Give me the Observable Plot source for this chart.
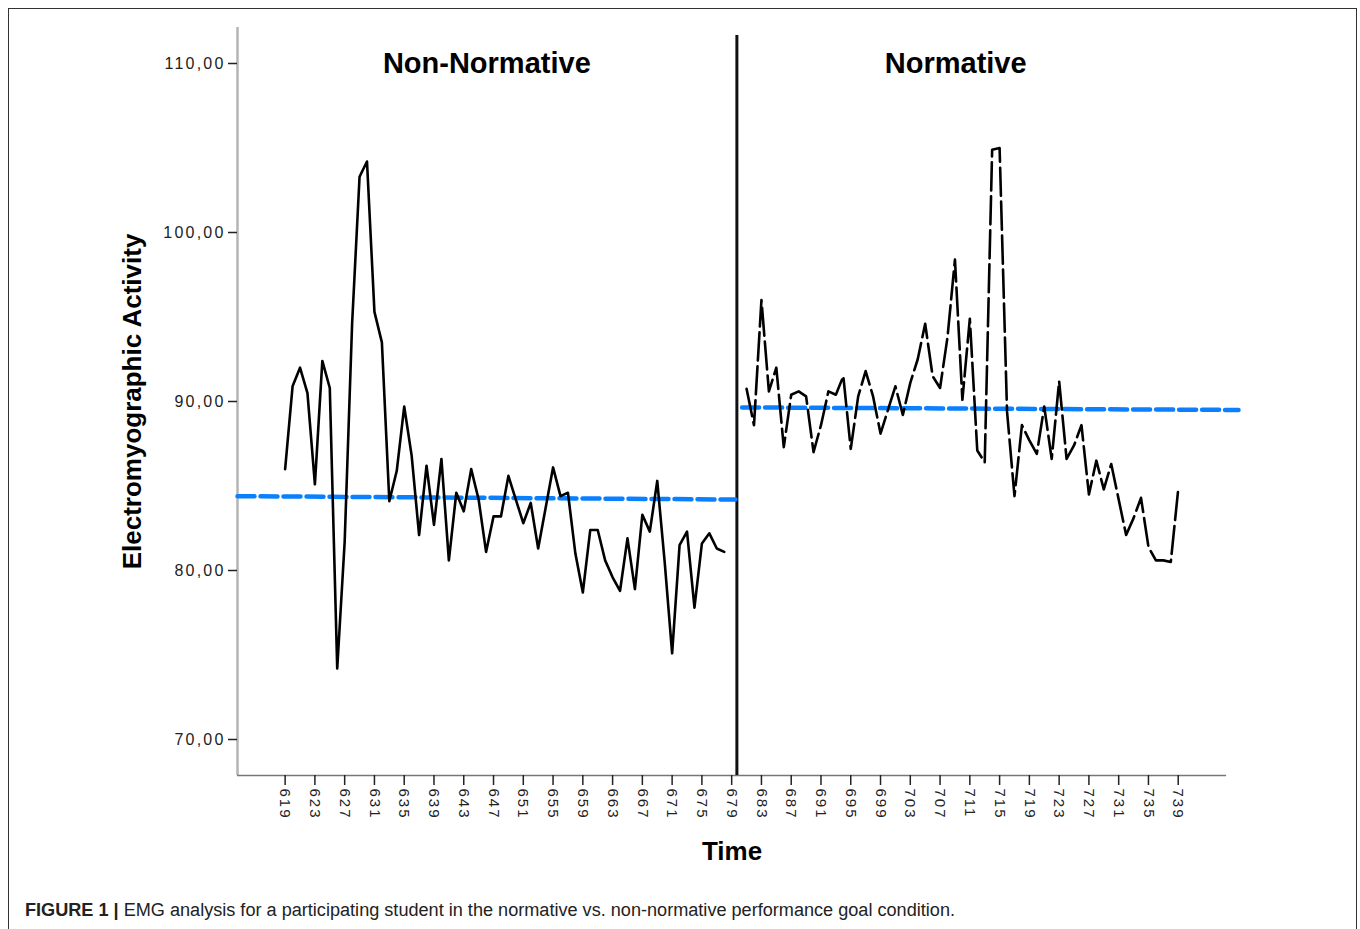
<!DOCTYPE html>
<html><head><meta charset="utf-8">
<script src="https://cdn.jsdelivr.net/npm/d3@7"></script>
<script src="https://cdn.jsdelivr.net/npm/@observablehq/plot@0.6"></script>
<style>
body{margin:0;background:#fff;width:1360px;height:929px;overflow:hidden;position:relative;font-family:"Liberation Sans",Arial,sans-serif}
#frame{position:absolute;left:8px;top:8px;width:1349px;height:960px;border:1.5px solid #333;box-sizing:border-box}
#chart{position:absolute;left:0;top:0}
#caption{position:absolute;left:25px;top:899px;font-size:18px;line-height:22px;color:#222;white-space:nowrap;transform-origin:left center}
</style></head><body>
<div id="frame"></div>
<div id="chart"></div>
<div id="caption"><b>FIGURE 1 |</b> EMG analysis for a participating student in the normative vs. non-normative performance goal condition.</div>
<script>
// Non-normative phase (solid line)
const nonNormTime = d3.range(619, 679);
const nonNormValue = [86.0,90.9,92.0,90.5,85.1,92.4,90.8,74.2,81.7,94.6,
  103.3,104.2,95.3,93.5,84.1,85.9,89.7,86.8,82.1,86.2,
  82.7,86.6,80.6,84.6,83.5,86.0,84.2,81.1,83.2,83.2,
  85.6,84.2,82.8,84.0,81.3,83.7,86.1,84.4,84.6,81.0,
  78.7,82.4,82.4,80.6,79.6,78.8,81.9,78.9,83.3,82.3,
  85.3,80.5,75.1,81.5,82.3,77.8,81.6,82.2,81.3,81.1];
// Normative phase (dashed line)
const normTime = d3.range(681, 740);
const normValue = [90.75,88.6,96.0,90.6,92.0,87.3,90.4,90.6,90.3,87.0,
  88.6,90.6,90.4,91.5,87.2,90.3,91.8,90.3,88.1,89.5,
  90.9,89.2,91.1,92.5,94.6,91.5,90.8,93.8,98.4,90.1,
  94.9,87.1,86.4,104.9,105.0,89.4,84.4,88.6,87.7,86.9,
  89.7,86.6,91.2,86.6,87.4,88.6,84.5,86.5,84.8,86.3,
  84.2,82.1,83.1,84.3,81.4,80.6,80.6,80.5,84.8];
// Fit lines (blue dashed), one per phase: start/end
const fitPhase = ["Non-Normative","Non-Normative","Normative","Normative"];
const fitTime  = [612.6, 679.5, 680.4, 747.1];
const fitValue = [84.4, 84.2, 89.65, 89.5];
// Phase titles and phase divider
const phaseNames = ["Non-Normative","Normative"];
const phaseTitleTime = [646.1, 709.1];
const phaseChangeTime = [679.7];
// Axes
const yTicks = [70,80,90,100,110];
const xTicks = d3.range(619, 740, 4);
const xDomain = [612.6, 747.1];
const xAxisEnd = 745.5;
const yDomain = [67.87, 112.13];
const dividerTop = 111.65;

const nonNorm = nonNormTime.map((t,i)=>({t, v: nonNormValue[i]}));
const norm = normTime.map((t,i)=>({t, v: normValue[i]}));
const fit = fitTime.map((t,i)=>({t, v: fitValue[i], phase: fitPhase[i]}));
const titles = phaseNames.map((n,i)=>({n, t: phaseTitleTime[i]}));

const fmt = d => d.toFixed(2).replace(".", ",");

const plot = Plot.plot({
  width: 1360, height: 880,
  marginLeft: 237, marginRight: 122, marginTop: 27, marginBottom: 105,
  x: {domain: xDomain},
  y: {domain: yDomain},
  style: {fontFamily: "'Liberation Sans', Arial, sans-serif", background: "transparent", overflow: "visible", color: "#222"},
  marks: [
    Plot.ruleX([xDomain[0]], {y1: yDomain[0], y2: yDomain[1], stroke: "#b4b4b4", strokeWidth: 2.5}),
    Plot.ruleY([yDomain[0]], {x1: xDomain[0], x2: xAxisEnd, stroke: "#777", strokeWidth: 1.5}),
    Plot.axisY({ticks: yTicks, tickFormat: fmt, tickSize: 9, tickPadding: 3, fontSize: 16, stroke: "#222", strokeWidth: 1.5, label: null}),
    Plot.axisX({ticks: xTicks, tickFormat: d => String(d), tickSize: 10, tickPadding: 3, tickRotate: 90, fontSize: 15, stroke: "#222", strokeWidth: 1.5, label: null}),
    Plot.ruleX(phaseChangeTime, {y1: dividerTop, y2: yDomain[0], stroke: "#111", strokeWidth: 3}),
    Plot.line(fit, {x: "t", y: "v", z: "phase", stroke: "#0a80ff", strokeWidth: 4.5, strokeDasharray: "17,6"}),
    Plot.line(nonNorm, {x: "t", y: "v", stroke: "#000", strokeWidth: 2.6}),
    Plot.line(norm, {x: "t", y: "v", stroke: "#000", strokeWidth: 2.6, strokeDasharray: "28,6"}),
    Plot.text(titles, {x: "t", y: yTicks[4], text: "n", fontSize: 29, fontWeight: "bold", fill: "#000"}),
    Plot.text(["Electromyographic Activity"], {frameAnchor: "left", dx: -105, rotate: -90, textAnchor: "middle", fontSize: 26, fontWeight: "bold", fill: "#000"}),
    Plot.text(["Time"], {frameAnchor: "bottom", dx: -6, dy: 84, fontSize: 26, fontWeight: "bold", fill: "#000"})
  ]
});
document.getElementById("chart").appendChild(plot);
// spaced-out tick label lettering as in the original export
d3.select(plot).selectAll('g[aria-label="y-axis tick label"]').attr("font-size", 16).attr("letter-spacing", "2.2px");
d3.select(plot).selectAll('g[aria-label="x-axis tick label"]').attr("font-size", 15).attr("letter-spacing", "2px");
const cap = document.getElementById("caption");
const w = cap.getBoundingClientRect().width;
cap.style.transform = `scaleX(${930 / w})`;
</script>
</body></html>
